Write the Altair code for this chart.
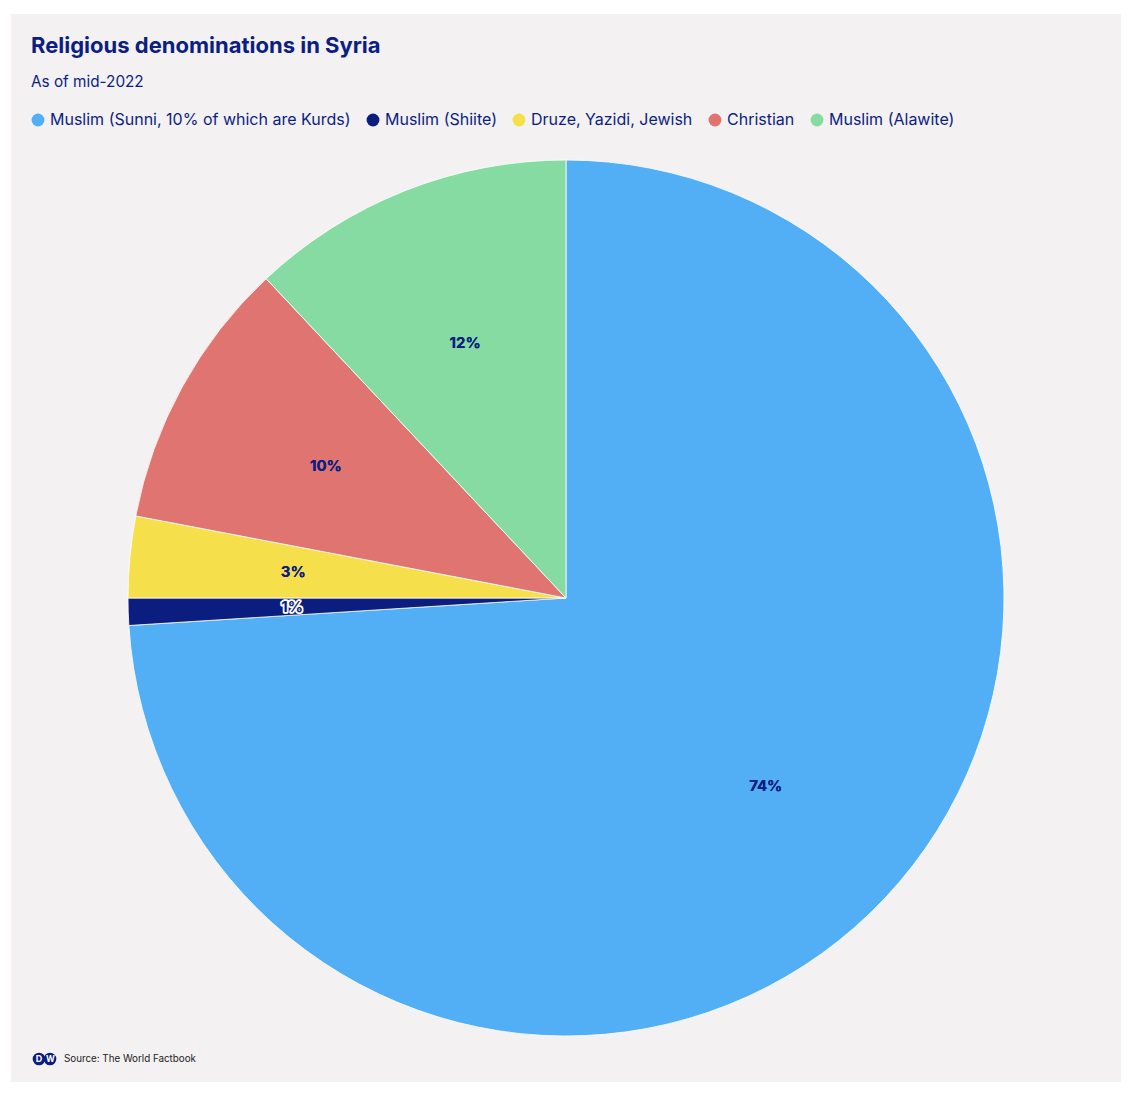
import altair as alt
import pandas as pd

categories = ["Muslim (Sunni, 10% of which are Kurds)", "Muslim (Shiite)",
              "Druze, Yazidi, Jewish", "Christian", "Muslim (Alawite)"]
values = [74, 1, 3, 10, 12]
labels = ["74%", "1%", "3%", "10%", "12%"]
colors = ["#52aef5", "#0b1d7e", "#f5e04b", "#e07470", "#86dba2"]
halo = [0, 1, 0, 0, 0]

NAVY = "#0c1e82"
FONT = "Inter"

df = pd.DataFrame({"cat": categories, "value": values, "label": labels,
                   "idx": list(range(len(values))), "halo": halo})

W, H = 1116, 1078
CX, CY, R = 558, 590, 438

panel = alt.Chart(pd.DataFrame({"a": [0]})).mark_rect(color="#f3f1f2").encode(
    x=alt.value(3), x2=alt.value(1113), y=alt.value(6), y2=alt.value(1074))

base = alt.Chart(df).encode(
    theta=alt.Theta("value:Q", stack=True),
    order=alt.Order("idx:Q"),
)

arcs = base.mark_arc(outerRadius=R, stroke="white", strokeWidth=0.8).encode(
    x=alt.value(CX), y=alt.value(CY),
    color=alt.Color("cat:N", sort=categories,
                    scale=alt.Scale(domain=categories, range=colors),
                    legend=alt.Legend(title=None, orient="none", legendX=22, legendY=104,
                                      direction="horizontal", symbolType="circle",
                                      symbolSize=165, symbolStrokeWidth=0,
                                      labelFont=FONT, labelFontSize=16, labelColor=NAVY,
                                      labelOffset=4, columnPadding=14, padding=0,
                                      labelLimit=500)),
)

halo_text = base.mark_text(radius=274, font=FONT, fontSize=15, fontWeight="bold",
                           fill=NAVY, stroke="white", strokeWidth=3.5,
                           strokeJoin="round").encode(
    x=alt.value(CX), y=alt.value(CY),
    text="label:N",
    strokeOpacity=alt.StrokeOpacity("halo:Q", scale=None, legend=None),
)
texts = base.mark_text(radius=274, font=FONT, fontSize=15, fontWeight="bold",
                       fill=NAVY).encode(
    x=alt.value(CX), y=alt.value(CY), text="label:N")

one = pd.DataFrame({"a": [0]})
title = alt.Chart(one).mark_text(text="Religious denominations in Syria", font=FONT,
                                 fontSize=22, fontWeight="bold", color=NAVY,
                                 align="left", baseline="alphabetic").encode(
    x=alt.value(23), y=alt.value(45))
subtitle = alt.Chart(one).mark_text(text="As of mid-2022", font=FONT, fontSize=15.3,
                                    color=NAVY, align="left",
                                    baseline="alphabetic").encode(
    x=alt.value(23), y=alt.value(79))

logo_pts = alt.Chart(one).mark_point(
    filled=True, size=160, color="#0b1d7e", opacity=1, shape="circle").encode(
    x=alt.value(31), y=alt.value(1051))
logo_pts2 = alt.Chart(one).mark_point(filled=True, size=160, color="#0b1d7e",
                                      opacity=1, shape="circle").encode(
    x=alt.value(42), y=alt.value(1051))
logo_d = alt.Chart(one).mark_text(text="D", font=FONT, fontSize=9, fontWeight="bold",
                                  color="white").encode(x=alt.value(31), y=alt.value(1051))
logo_w = alt.Chart(one).mark_text(text="W", font=FONT, fontSize=8.5, fontWeight="bold",
                                  color="white").encode(x=alt.value(42.5), y=alt.value(1051))
source = alt.Chart(one).mark_text(text="Source: The World Factbook", font=FONT,
                                  fontSize=9.8, color="#222222", align="left",
                                  baseline="middle").encode(
    x=alt.value(56), y=alt.value(1051))

chart = alt.layer(panel, arcs, halo_text, texts, title, subtitle,
                  logo_pts, logo_pts2, logo_d, logo_w, source).properties(
    width=W, height=H,
    autosize=alt.AutoSizeParams(type="none"),
    padding=0,
    background="white",
).configure_view(stroke=None)

chart.save("out.html", embed_options={"renderer": "svg", "actions": False})
